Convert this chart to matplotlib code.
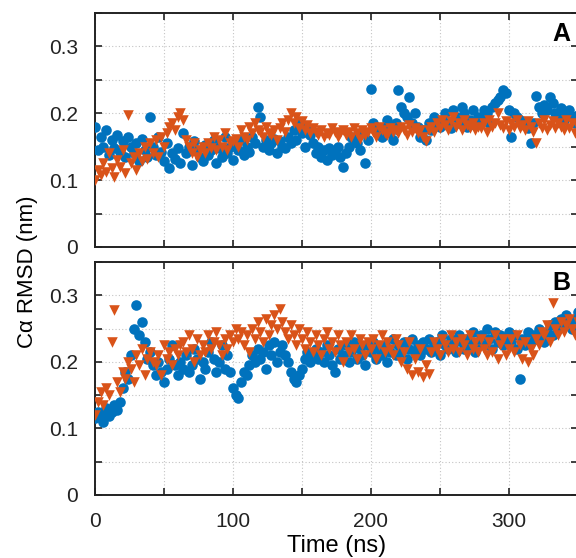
import numpy as np
import matplotlib
matplotlib.use("Agg")
import matplotlib.pyplot as plt
from matplotlib.ticker import MultipleLocator, FormatStrFormatter

plt.rcParams['font.family'] = ['Liberation Sans', 'DejaVu Sans']

# Time axis (ns)
time_ns = list(range(0, 351, 2))

# Panel A
a_blue = [
    0.180, 0.145, 0.165, 0.150, 0.175, 0.138, 0.160, 0.148, 0.168, 0.142,
    0.158, 0.135, 0.165, 0.150, 0.140, 0.155, 0.128, 0.162, 0.145, 0.135,
    0.195, 0.150, 0.138, 0.165, 0.142, 0.128, 0.155, 0.118, 0.140, 0.132,
    0.148, 0.125, 0.170, 0.140, 0.150, 0.122, 0.158, 0.145, 0.135, 0.128,
    0.152, 0.138, 0.145, 0.160, 0.125, 0.148, 0.135, 0.165, 0.140, 0.150,
    0.130, 0.155, 0.145, 0.160, 0.138, 0.150, 0.142, 0.165, 0.155, 0.210,
    0.195, 0.150, 0.160, 0.145, 0.155, 0.162, 0.140, 0.158, 0.150, 0.148,
    0.165, 0.155, 0.175, 0.160, 0.185, 0.170, 0.150, 0.180, 0.168, 0.155,
    0.140, 0.150, 0.135, 0.145, 0.130, 0.148, 0.138, 0.142, 0.150, 0.135,
    0.120, 0.140, 0.150, 0.165, 0.160, 0.155, 0.145, 0.170, 0.125, 0.160,
    0.237, 0.185, 0.180, 0.175, 0.165, 0.180, 0.190, 0.170, 0.160, 0.185,
    0.235, 0.210, 0.200, 0.195, 0.225, 0.185, 0.200, 0.180, 0.165, 0.175,
    0.160, 0.185, 0.175, 0.195, 0.185, 0.180, 0.190, 0.200, 0.185, 0.178,
    0.205, 0.195, 0.185, 0.210, 0.200, 0.180, 0.190, 0.205, 0.182, 0.195,
    0.190, 0.205, 0.200, 0.185, 0.210, 0.215, 0.220, 0.225, 0.235, 0.230,
    0.205, 0.165, 0.200, 0.195, 0.190, 0.185, 0.182, 0.178, 0.155, 0.185,
    0.226, 0.210, 0.200, 0.212, 0.205, 0.225, 0.215, 0.200, 0.195, 0.208,
    0.190, 0.200, 0.205, 0.195, 0.185, 0.198,
]
a_orange = [
    0.100, 0.115, 0.108, 0.125, 0.112, 0.140, 0.118, 0.105, 0.130, 0.120,
    0.145, 0.110, 0.197, 0.125, 0.135, 0.115, 0.140, 0.128, 0.150, 0.132,
    0.155, 0.140, 0.160, 0.135, 0.165, 0.150, 0.170, 0.180, 0.185, 0.175,
    0.195, 0.200, 0.190, 0.160, 0.150, 0.140, 0.155, 0.135, 0.145, 0.150,
    0.140, 0.155, 0.148, 0.165, 0.145, 0.160, 0.150, 0.170, 0.145, 0.155,
    0.158, 0.162, 0.150, 0.175, 0.165, 0.160, 0.180, 0.170, 0.185, 0.175,
    0.172, 0.165, 0.180, 0.170, 0.168, 0.175, 0.160, 0.178, 0.185, 0.172,
    0.190, 0.200, 0.185, 0.195, 0.178, 0.188, 0.175, 0.182, 0.170, 0.178,
    0.172, 0.168, 0.175, 0.165, 0.170, 0.168, 0.178, 0.172, 0.165, 0.170,
    0.175, 0.168, 0.172, 0.165, 0.178, 0.170, 0.162, 0.175, 0.168, 0.172,
    0.178, 0.172, 0.165, 0.180, 0.175, 0.170, 0.168, 0.178, 0.172, 0.175,
    0.170, 0.180, 0.175, 0.168, 0.182, 0.172, 0.178, 0.170, 0.175, 0.165,
    0.158, 0.175, 0.180, 0.172, 0.185, 0.178, 0.190, 0.182, 0.175, 0.188,
    0.195, 0.180, 0.185, 0.175, 0.190, 0.182, 0.178, 0.185, 0.175, 0.180,
    0.178, 0.185, 0.172, 0.190, 0.180, 0.185, 0.200, 0.182, 0.178, 0.188,
    0.175, 0.185, 0.180, 0.190, 0.178, 0.182, 0.175, 0.188, 0.180, 0.172,
    0.155, 0.185, 0.178, 0.190, 0.175, 0.182, 0.188, 0.178, 0.185, 0.180,
    0.175, 0.190, 0.178, 0.185, 0.170, 0.180,
]

# Panel B
b_blue = [
    0.115, 0.125, 0.120, 0.110, 0.130, 0.118, 0.125, 0.135, 0.128, 0.140,
    0.160, 0.185, 0.175, 0.210, 0.250, 0.285, 0.240, 0.260, 0.230, 0.205,
    0.215, 0.195, 0.180, 0.200, 0.185, 0.170, 0.190, 0.205, 0.225, 0.195,
    0.180, 0.200, 0.190, 0.210, 0.185, 0.195, 0.220, 0.205, 0.175, 0.200,
    0.190, 0.215, 0.230, 0.205, 0.185, 0.200, 0.225, 0.190, 0.210, 0.185,
    0.160, 0.150, 0.145, 0.170, 0.185, 0.180, 0.195, 0.210, 0.200, 0.220,
    0.205, 0.215, 0.190, 0.225, 0.210, 0.230, 0.200, 0.215, 0.225, 0.210,
    0.200, 0.185, 0.175, 0.170, 0.180, 0.190, 0.205, 0.215, 0.200, 0.210,
    0.220, 0.205, 0.215, 0.200, 0.225, 0.210, 0.195, 0.185, 0.220, 0.205,
    0.210, 0.225, 0.200, 0.215, 0.230, 0.205, 0.220, 0.210, 0.195, 0.225,
    0.215, 0.230, 0.205, 0.220, 0.210, 0.225, 0.200, 0.215, 0.235, 0.210,
    0.225, 0.215, 0.230, 0.205, 0.220, 0.235, 0.215, 0.225, 0.210, 0.230,
    0.220, 0.235, 0.215, 0.225, 0.230, 0.210, 0.240, 0.225, 0.220, 0.235,
    0.225, 0.215, 0.240, 0.230, 0.220, 0.235, 0.225, 0.245, 0.215, 0.230,
    0.240, 0.225, 0.250, 0.235, 0.220, 0.245, 0.230, 0.240, 0.225, 0.235,
    0.245, 0.230, 0.240, 0.220, 0.175, 0.235, 0.225, 0.245, 0.230, 0.240,
    0.235, 0.250, 0.240, 0.230, 0.245, 0.255, 0.240, 0.260, 0.250, 0.265,
    0.255, 0.270, 0.260, 0.250, 0.265, 0.275,
]
b_orange = [
    0.120, 0.140, 0.155, 0.135, 0.160, 0.150, 0.230, 0.278, 0.170, 0.155,
    0.185, 0.175, 0.200, 0.190, 0.170, 0.210, 0.195, 0.220, 0.180, 0.205,
    0.215, 0.200, 0.195, 0.210, 0.180, 0.225, 0.205, 0.215, 0.195, 0.220,
    0.210, 0.225, 0.230, 0.215, 0.240, 0.220, 0.200, 0.235, 0.210, 0.225,
    0.215, 0.240, 0.220, 0.230, 0.245, 0.225, 0.210, 0.235, 0.220, 0.240,
    0.230, 0.250, 0.235, 0.245, 0.225, 0.240, 0.215, 0.250, 0.235, 0.260,
    0.245, 0.230, 0.265, 0.240, 0.255, 0.270, 0.250, 0.280, 0.260, 0.245,
    0.235, 0.255, 0.240, 0.225, 0.250, 0.235, 0.220, 0.245, 0.230, 0.215,
    0.240, 0.225, 0.210, 0.235, 0.245, 0.220, 0.230, 0.215, 0.240, 0.225,
    0.200, 0.230, 0.215, 0.240, 0.220, 0.205, 0.235, 0.225, 0.210, 0.230,
    0.220, 0.235, 0.205, 0.225, 0.240, 0.215, 0.230, 0.220, 0.210, 0.235,
    0.225, 0.200, 0.215, 0.190, 0.230, 0.180, 0.205, 0.185, 0.220, 0.178,
    0.195, 0.182, 0.215, 0.230, 0.220, 0.210, 0.235, 0.225, 0.215, 0.240,
    0.220, 0.230, 0.215, 0.235, 0.225, 0.210, 0.240, 0.220, 0.230, 0.215,
    0.235, 0.220, 0.210, 0.230, 0.215, 0.240, 0.205, 0.225, 0.235, 0.210,
    0.220, 0.235, 0.215, 0.240, 0.225, 0.205, 0.230, 0.200, 0.220, 0.210,
    0.235, 0.225, 0.245, 0.240, 0.255, 0.230, 0.288, 0.250, 0.240, 0.260,
    0.245, 0.255, 0.265, 0.250, 0.240, 0.260,
]

panel_labels = ["A", "B"]
xlabel = "Time (ns)"
ylabel = "Cα RMSD (nm)"

BLUE = "#0072BD"
ORANGE = "#D95319"

W, H = 576, 558
fig = plt.figure(figsize=(W / 100, H / 100), dpi=100)

def px_axes(left, top, right, bottom):
    return fig.add_axes([left / W, 1 - bottom / H, (right - left) / W, (bottom - top) / H])

axA = px_axes(95, 13, 577.5, 247)
axB = px_axes(95, 262, 577.5, 495)

for ax, blue, orange, lab in [(axA, a_blue, a_orange, panel_labels[0]),
                              (axB, b_blue, b_orange, panel_labels[1])]:
    ax.scatter(time_ns, blue, s=58, marker='o', color=BLUE, linewidths=0, zorder=3)
    ax.scatter(time_ns, orange, s=58, marker='v', color=ORANGE, linewidths=0, zorder=4)
    ax.set_xlim(0, 350)
    ax.set_ylim(0, 0.35)
    ax.xaxis.set_major_locator(MultipleLocator(100))
    ax.xaxis.set_minor_locator(MultipleLocator(50))
    ax.yaxis.set_major_locator(MultipleLocator(0.1))
    ax.yaxis.set_minor_locator(MultipleLocator(0.05))
    ax.yaxis.set_major_formatter(matplotlib.ticker.FuncFormatter(
        lambda v, p: "0" if abs(v) < 1e-9 else f"{v:.1f}"))
    ax.grid(True, which='both', linestyle=(0, (1, 2)), color='#c4c4c4', linewidth=0.8, zorder=0)
    ax.set_axisbelow(True)
    ax.tick_params(which='both', direction='in', length=5, width=1.2,
                   top=True, right=True, labelsize=15, colors='#222222', pad=12)
    for sp in ax.spines.values():
        sp.set_linewidth(1.4)
        sp.set_color('#222222')
    ax.text(0.985, 0.96, lab, transform=ax.transAxes, ha='right', va='top',
            fontsize=18, fontweight='bold', zorder=6)

axA.tick_params(labelbottom=False)
axB.xaxis.set_major_formatter(FormatStrFormatter('%d'))
axB.set_xlabel(xlabel, fontsize=17, labelpad=3)
fig.text(28 / W, 1 - 272 / H, ylabel, rotation=90, ha='center', va='center', fontsize=16)

fig.savefig("out.png", dpi=100)
